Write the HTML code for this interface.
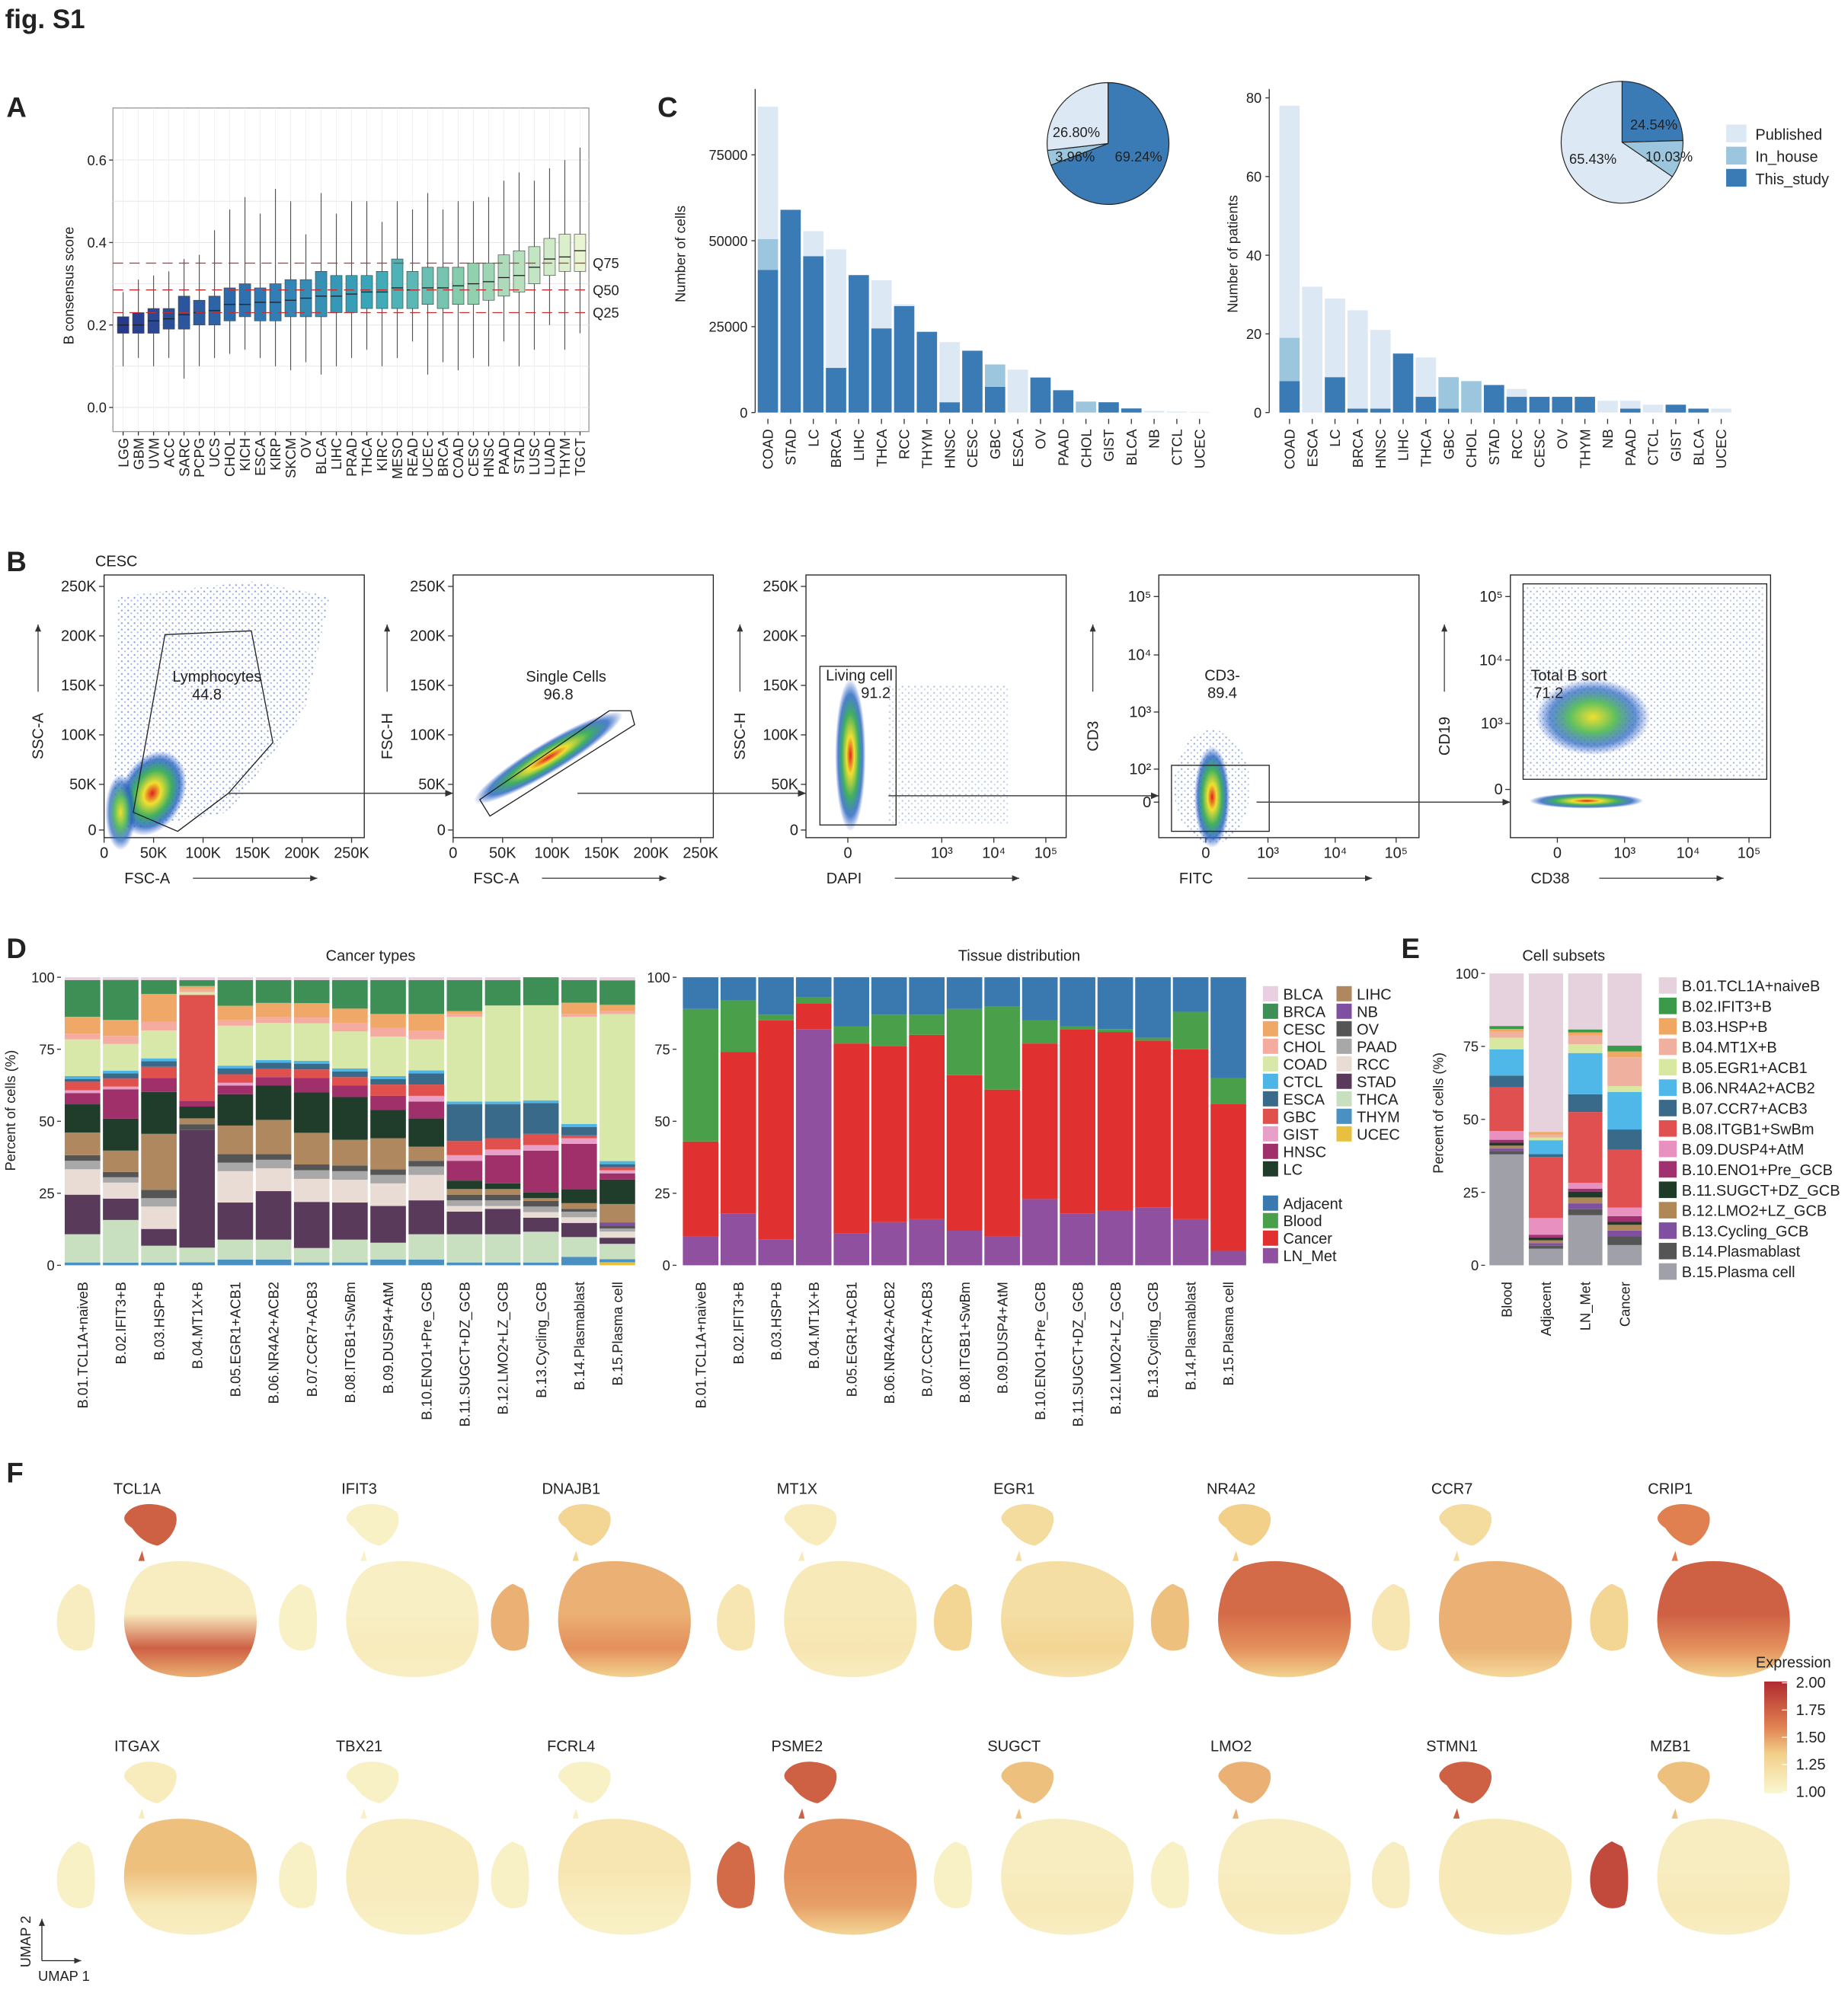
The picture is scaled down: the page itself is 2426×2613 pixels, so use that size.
<!DOCTYPE html>
<html><head><meta charset="utf-8"><style>
html,body{margin:0;padding:0;background:#fff}
svg{display:block;font-family:"Liberation Sans",Arial,sans-serif}
</style></head><body>
<svg id="fig" xmlns="http://www.w3.org/2000/svg" width="2426" height="2613" viewBox="0 0 1456 1568">
<defs>
<pattern id="dots" width="5" height="5" patternUnits="userSpaceOnUse"><circle cx="1" cy="1" r="0.7" fill="#2a50c0"/><circle cx="3.5" cy="3.2" r="0.6" fill="#3070d0"/></pattern>
<radialGradient id="dens" cx="50%" cy="50%" r="50%"><stop offset="0" stop-color="#e02020"/><stop offset="0.25" stop-color="#f0e030"/><stop offset="0.55" stop-color="#40b060"/><stop offset="0.8" stop-color="#2060c0" stop-opacity="0.8"/><stop offset="1" stop-color="#2050c0" stop-opacity="0"/></radialGradient>
<radialGradient id="dens2" cx="50%" cy="50%" r="50%"><stop offset="0" stop-color="#f0e030"/><stop offset="0.4" stop-color="#60c060"/><stop offset="0.75" stop-color="#2060c0" stop-opacity="0.7"/><stop offset="1" stop-color="#2050c0" stop-opacity="0"/></radialGradient>
<linearGradient id="cbar" x1="0" y1="1" x2="0" y2="0"><stop offset="0" stop-color="#faf6d0"/><stop offset="0.35" stop-color="#f2d08a"/><stop offset="0.6" stop-color="#e08050"/><stop offset="1" stop-color="#b02a30"/></linearGradient>
<marker id="arr" markerWidth="8" markerHeight="8" refX="7" refY="4" orient="auto"><path d="M0,1 L7,4 L0,7 Z" fill="#333"/></marker>
</defs>
</svg>
<script>
// ---------- DATA ----------
const catsA=["LGG","GBM","UVM","ACC","SARC","PCPG","UCS","CHOL","KICH","ESCA","KIRP","SKCM","OV","BLCA","LIHC","PRAD","THCA","KIRC","MESO","READ","UCEC","BRCA","COAD","CESC","HNSC","PAAD","STAD","LUSC","LUAD","THYM","TGCT"];
const medA=[.20,.20,.21,.215,.225,.23,.235,.25,.25,.255,.255,.26,.265,.27,.27,.275,.28,.28,.29,.285,.29,.29,.295,.30,.305,.315,.32,.34,.36,.365,.38];
const q1A=[.18,.18,.18,.19,.19,.20,.20,.21,.22,.21,.21,.22,.22,.22,.23,.23,.24,.24,.24,.24,.25,.24,.25,.25,.26,.27,.28,.30,.32,.33,.33];
const q3A=[.22,.23,.24,.24,.27,.26,.27,.29,.30,.29,.30,.31,.31,.33,.32,.32,.32,.33,.36,.33,.34,.34,.34,.35,.35,.37,.38,.39,.41,.42,.42];
const loA=[.10,.12,.10,.12,.07,.10,.12,.13,.14,.12,.10,.09,.11,.08,.10,.12,.14,.10,.12,.16,.08,.11,.09,.12,.10,.16,.10,.14,.20,.14,.18];
const hiA=[.28,.31,.32,.33,.36,.37,.43,.48,.51,.47,.53,.50,.42,.52,.47,.50,.50,.45,.50,.48,.52,.48,.50,.50,.51,.55,.57,.55,.58,.60,.63];
const refQ=[0.35,0.285,0.23]; const refQLabels=["Q75","Q50","Q25"];
const ticksA=[0.0,0.2,0.4,0.6];

const catsC1=["COAD","STAD","LC","BRCA","LIHC","THCA","RCC","THYM","HNSC","CESC","GBC","ESCA","OV","PAAD","CHOL","GIST","BLCA","NB","CTCL","UCEC"];
const thisC1=[41500,59000,45500,13000,40000,24500,31000,23500,3000,18000,7500,0,10200,6500,0,3000,1200,0,0,0];
const inhC1=[9000,0,0,0,0,0,0,0,0,0,6500,0,0,0,3200,0,0,0,0,0];
const pubC1=[38500,0,7300,34500,0,14000,500,0,17500,0,0,12500,0,0,0,0,0,500,300,200];
const ticksC1=[0,25000,50000,75000];
const pieC1=[69.24,3.96,26.80];

const catsC2=["COAD","ESCA","LC","BRCA","HNSC","LIHC","THCA","GBC","CHOL","STAD","RCC","CESC","OV","THYM","NB","PAAD","CTCL","GIST","BLCA","UCEC"];
const thisC2=[8,0,9,1,1,15,4,1,0,7,4,4,4,4,0,1,0,2,1,0];
const inhC2=[11,0,0,0,0,0,0,8,8,0,0,0,0,0,0,0,0,0,0,0];
const pubC2=[59,32,20,25,20,0,10,0,0,0,2,0,0,0,3,2,2,0,0,1];
const ticksC2=[0,20,40,60,80];
const pieC2=[24.54,10.03,65.43];
const sourceNames=["This_study","In_house","Published"];

const subsetsD=["B.01.TCL1A+naiveB","B.02.IFIT3+B","B.03.HSP+B","B.04.MT1X+B","B.05.EGR1+ACB1","B.06.NR4A2+ACB2","B.07.CCR7+ACB3","B.08.ITGB1+SwBm","B.09.DUSP4+AtM","B.10.ENO1+Pre_GCB","B.11.SUGCT+DZ_GCB","B.12.LMO2+LZ_GCB","B.13.Cycling_GCB","B.14.Plasmablast","B.15.Plasma cell"];
const cancers=["BLCA","BRCA","CESC","CHOL","COAD","CTCL","ESCA","GBC","GIST","HNSC","LC","LIHC","NB","OV","PAAD","RCC","STAD","THCA","THYM","UCEC"];
const cancerPct=[
[1,13,6,2,13,1,1,3,1,4,10,8,0,2,3,9,14,10,1,0],
[1,15,6,3,10,1,2,3,1,11,12,8,0,2,2,6,8,16,1,0],
[1,5,10,3,10,1,2,4,0,5,15,20,0,3,3,8,6,6,1,0],
[1,2,1,1,1,0,0,36,0,2,4,2,0,2,0,0,40,5,1,0],
[1,9,5,2,14,1,2,3,1,3,11,10,0,3,3,11,13,7,2,0],
[1,8,5,2,13,1,2,3,0,3,12,12,0,2,3,8,17,7,2,0],
[1,8,5,2,13,1,2,3,0,5,14,11,0,2,3,8,16,5,1,0],
[1,10,5,3,13,1,2,3,0,4,15,9,0,2,3,8,13,8,1,0],
[1,12,5,3,14,1,2,4,0,5,10,11,0,2,3,8,13,6,2,0],
[1,12,6,3,11,1,4,4,2,6,10,5,0,2,3,9,12,9,2,0],
[1,11,1,1,30,1,13,5,2,7,3,2,0,2,2,2,8,10,1,0],
[1,9,0,0,34,1,12,4,2,10,2,2,0,2,2,1,9,10,1,0],
[0,10,0,0,34,1,11,4,2,15,2,1,0,2,2,2,5,11,1,0],
[1,8,4,1,38,1,3,1,2,16,5,2,0,1,2,2,5,7,3,0],
[1,8,2,1,48,1,1,1,1,2,8,6,1,1,1,2,2,5,1,1]];
const tissues=["Adjacent","Blood","Cancer","LN_Met"];
const tissueLN=[10,18,9,82,11,15,16,12,10,23,18,19,20,16,5];
const tissueCancer=[33,56,76,9,66,61,64,54,51,54,64,62,58,59,51];
const tissueBlood=[46,18,2,2,6,11,7,23,29,8,1,1,1,13,9];
const tissueAdj=[11,8,13,7,17,13,13,11,10,15,17,18,21,12,35];
const ticksD=[0,25,50,75,100];

const groupsE=["Blood","Adjacent","LN_Met","Cancer"];
const subsetPct=[
[18,1,1,2,4,9,4,15,3,1,1,1,1,1,38],
[57,0,1,1,1,5,1,22,6,1,1,1,1,1,6],
[19,1,1,3,3,14,6,24,2,1,2,2,2,2,17],
[25,2,2,10,2,13,7,20,3,2,1,2,2,3,7]];

const genes1=["TCL1A","IFIT3","DNAJB1","MT1X","EGR1","NR4A2","CCR7","CRIP1"];
const genes2=["ITGAX","TBX21","FCRL4","PSME2","SUGCT","LMO2","STMN1","MZB1"];
const expTop=[.75,.05,.3,.1,.25,.35,.25,.6, .1,.05,.05,.75,.4,.45,.75,.4];
const expLeft=[.08,.05,.45,.15,.3,.4,.15,.3, .05,.05,.05,.7,.05,.05,.08,.85];
const expUp=[.08,.06,.45,.12,.22,.7,.45,.75, .4,.1,.15,.55,.08,.08,.12,.08];
const expLow=[.75,.1,.55,.15,.3,.55,.45,.55, .12,.08,.08,.5,.12,.12,.12,.12];
const cbarTicks=["2.00","1.75","1.50","1.25","1.00"];

// ---------- HELPERS ----------
const NS="http://www.w3.org/2000/svg";
const S=document.getElementById('fig');
function mk(tag,attrs,parent,name,inter){
  const el=document.createElementNS(NS,tag);
  for(const k in attrs) el.setAttribute(k,attrs[k]);
  
  
  (parent||S).appendChild(el);return el;
}
function grp(name,parent){return mk('g',{},parent||S,name,false);}
function tx(p,x,y,s,size,name,o){
  o=o||{};
  const a={x:x,y:y,'font-size':size,fill:o.fill||'#222','text-anchor':o.anchor||'start'};
  if(o.rot!==undefined) a.transform=`rotate(${o.rot} ${x} ${y})`;
  if(o.weight) a['font-weight']=o.weight;
  const t=mk('text',a,p,name,false);t.textContent=s;return t;
}
function ln(p,x1,y1,x2,y2,name,o){o=o||{};
  const a={x1,y1,x2,y2,stroke:o.stroke||'#333','stroke-width':o.w||0.8};
  if(o.dash)a['stroke-dasharray']=o.dash; if(o.marker)a['marker-end']=o.marker;
  return mk('line',a,p,name,false);}
function hex(c){return [parseInt(c.slice(1,3),16),parseInt(c.slice(3,5),16),parseInt(c.slice(5,7),16)];}
function lerpC(stops,t){t=Math.max(0,Math.min(1,t));
  for(let i=1;i<stops.length;i++){if(t<=stops[i][0]){const [t0,c0]=stops[i-1],[t1,c1]=stops[i];const f=(t-t0)/(t1-t0||1);
    const a=hex(c0),b=hex(c1);return `rgb(${a.map((v,j)=>Math.round(v+(b[j]-v)*f)).join(',')})`;}}
  return stops[stops.length-1][1];}
const boxStops=[[0,'#283a8c'],[0.3,'#2f78b4'],[0.55,'#3aa8b8'],[0.75,'#8ccfae'],[1,'#e8f4d2']];
const expStops=[[0,'#faf6d0'],[0.35,'#f2d08a'],[0.6,'#e08050'],[1,'#b02a30']];

tx(S,4,22,"fig. S1",21,'figure-title',{weight:'bold'});

// ---------- PANEL A ----------
(function(){
const g=grp('panel-a');
tx(g,5,92,"A",22,'panel-label-a',{weight:'bold'});
const X0=89,X1=464,Y0=85,Y1=340;
const y=v=>321-v*325;
const x=i=>97+i*12;
mk('rect',{x:X0,y:Y0,width:X1-X0,height:Y1-Y0,fill:'#fff',stroke:'#999','stroke-width':0.8},g,'plot-area-a',false);
for(let v=0;v<=0.65;v+=0.1) ln(g,X0,y(v),X1,y(v),'gridline-a',{stroke:'#e6e6e6',w:0.6});
catsA.forEach((c,i)=>ln(g,x(i),Y0,x(i),Y1,'gridline-x-a',{stroke:'#efefef',w:0.5}));
ticksA.forEach(v=>{ln(g,X0-3,y(v),X0,y(v),'y-tick-a');tx(g,X0-5,y(v)+4,v.toFixed(1),11,'y-tick-label-a',{anchor:'end'});});
tx(g,58,225,"B consensus score",11,'y-axis-title-a',{rot:-90,anchor:'middle'});
catsA.forEach((c,i)=>{
  const col=lerpC(boxStops,i/(catsA.length-1));
  const b=grp('box-'+c.toLowerCase(),g);
  ln(b,x(i),y(hiA[i]),x(i),y(loA[i]),'whisker',{stroke:'#555',w:0.7});
  mk('rect',{x:x(i)-4.5,y:y(q3A[i]),width:9,height:y(q1A[i])-y(q3A[i]),fill:col,stroke:'#444','stroke-width':0.4},b,'box',false);
  ln(b,x(i)-4.5,y(medA[i]),x(i)+4.5,y(medA[i]),'median',{stroke:'#222',w:0.8});
  ln(g,x(i),Y1,x(i),Y1+3,'x-tick-a');
  tx(g,x(i)+4,Y1+5,c,11,'x-tick-label-a',{rot:-90,anchor:'end'});
});
refQ.forEach((v,k)=>{ln(g,X0,y(v),X1,y(v),'ref-line-'+refQLabels[k].toLowerCase(),{stroke:'#c03030',w:0.8,dash:'8,5'});
  tx(g,X1+3,y(v)+4,refQLabels[k],11,'ref-label-'+refQLabels[k].toLowerCase());});
})();

// ---------- PANEL C ----------
const srcCol=['#3a7ab5','#9cc6dd','#dce9f5'];
function barPanel(name,cats,series,ticks,yfn,x0,axisX,fmt,ylab,ylabX){
  const g=grp(name);
  ln(g,axisX,70,axisX,325,'y-axis-line');
  ticks.forEach(v=>{ln(g,axisX-3,yfn(v),axisX,yfn(v),'y-tick');tx(g,axisX-6,yfn(v)+4,fmt(v),11,'y-tick-label',{anchor:'end'});});
  tx(g,ylabX,200,ylab,11,'y-axis-title',{rot:-90,anchor:'middle'});
  cats.forEach((c,i)=>{
    const cx=x0+i*17.9;let acc=0;
    const b=grp('bar-'+c.toLowerCase(),g);
    series.forEach((s,k)=>{const v=s[i];if(v>0){
      mk('rect',{x:cx-8,y:yfn(acc+v),width:16,height:yfn(acc)-yfn(acc+v),fill:srcCol[k]},b,'bar-'+sourceNames[k].toLowerCase(),false);}acc+=v;});
    ln(g,cx,330,cx,334,'x-tick');
    tx(g,cx+4,338,c,11,'x-tick-label',{rot:-90,anchor:'end'});
  });
  return g;
}
function pie(g,cx,cy,r,vals,labels){
  let a=0;const tot=vals.reduce((s,v)=>s+v,0);
  vals.forEach((v,k)=>{const a0=a,a1=a+v/tot*2*Math.PI;a=a1;
    const p=(t)=>[cx+r*Math.sin(t),cy-r*Math.cos(t)];
    const [x0,y0]=p(a0),[x1,y1]=p(a1);
    mk('path',{d:`M${cx},${cy} L${x0},${y0} A${r},${r} 0 ${a1-a0>Math.PI?1:0} 1 ${x1},${y1} Z`,fill:srcCol[k],stroke:'#222','stroke-width':0.7},g,'pie-slice-'+sourceNames[k].toLowerCase(),false);
  });
  labels.forEach(l=>tx(g,l[0],l[1],l[2],11,'pie-label',{anchor:'middle'}));
}
(function(){
const y1=v=>325-v/25000*67.7;
const g1=barPanel('panel-c-cells',catsC1,[thisC1,inhC1,pubC1],ticksC1,y1,605,595,v=>String(v),"Number of cells",540);
tx(g1,518,92,"C",22,'panel-label-c',{weight:'bold'});
pie(g1,873,113,48,pieC1,[[848,108,pieC1[2].toFixed(2)+'%'],[847,127,pieC1[1].toFixed(2)+'%'],[897,127,pieC1[0].toFixed(2)+'%']]);
const y2=v=>325-v*3.1;
const g2=barPanel('panel-c-patients',catsC2,[thisC2,inhC2,pubC2],ticksC2,y2,1016,1000,v=>String(v),"Number of patients",975);
pie(g2,1278,112,48,pieC2,[[1303,102,pieC2[0].toFixed(2)+'%'],[1315,127,pieC2[1].toFixed(2)+'%'],[1255,129,pieC2[2].toFixed(2)+'%']]);
const lg=grp('legend-source');
['Published','In_house','This_study'].forEach((n,i)=>{const k=2-i;
  mk('rect',{x:1360,y:98+i*17.5,width:16,height:14,fill:srcCol[k]},lg,'legend-swatch-'+n.toLowerCase(),false);
  tx(lg,1383,110+i*17.5,n,12,'legend-label-'+n.toLowerCase());});
})();

// ---------- PANEL B ----------
(function(){
const g=grp('panel-b');
tx(g,5,450,"B",22,'panel-label-b',{weight:'bold'});
tx(g,75,446,"CESC",12,'sample-label');
const boxes=[[82,'SSC-A','FSC-A'],[357,'FSC-H','FSC-A'],[635,'SSC-H','DAPI'],[913,'CD3','FITC'],[1190,'CD19','CD38']];
const linY=[[462,'250K'],[501,'200K'],[540,'150K'],[579,'100K'],[618,'50K'],[654,'0']];
boxes.forEach((b,i)=>{
  const x0=b[0];const p=grp('flow-plot-'+(i+1),g);
  mk('rect',{x:x0,y:453,width:205,height:207,fill:'#fff',stroke:'#222','stroke-width':0.8},p,'flow-frame',false);
  let yt=linY;
  if(i==3) yt=[[470,'10⁵'],[516,'10⁴'],[561,'10³'],[606,'10²'],[632,'0']];
  if(i==4) yt=[[470,'10⁵'],[520,'10⁴'],[570,'10³'],[622,'0']];
  yt.forEach(t=>{ln(p,x0-4,t[0],x0,t[0],'y-tick');tx(p,x0-6,t[0]+4,t[1],12,'y-tick-label',{anchor:'end'});});
  let xt=[[0,'0'],[39,'50K'],[78,'100K'],[117,'150K'],[156,'200K'],[195,'250K']];
  if(i==2) xt=[[33,'0'],[107,'10³'],[148,'10⁴'],[189,'10⁵']];
  if(i==3) xt=[[37,'0'],[86,'10³'],[139,'10⁴'],[187,'10⁵']];
  if(i==4) xt=[[37,'0'],[90,'10³'],[140,'10⁴'],[188,'10⁵']];
  xt.forEach(t=>{ln(p,x0+t[0],660,x0+t[0],664,'x-tick');tx(p,x0+t[0],676,t[1],12,'x-tick-label',{anchor:'middle'});});
  tx(p,x0-48,580,b[1],12,'y-axis-title',{rot:-90,anchor:'middle'});
  ln(p,x0-52,545,x0-52,492,'y-axis-arrow',{marker:'url(#arr)',stroke:'#444'});
  tx(p,x0+16,696,b[2],12,'x-axis-title');
  ln(p,x0+70,692,x0+168,692,'x-axis-arrow',{marker:'url(#arr)',stroke:'#444'});
});
const c1=grp('flow-cloud-1',g);
mk('path',{d:'M90,655 L92,470 L200,458 L260,470 L240,560 L180,640 Z',fill:'url(#dots)',opacity:0.55},c1,'scatter-spread',false);
mk('ellipse',{cx:120,cy:625,rx:25,ry:35,fill:'url(#dens)',transform:'rotate(25 120 625)'},c1,'density-core',false);
mk('ellipse',{cx:95,cy:640,rx:12,ry:30,fill:'url(#dens2)'},c1,'density-core-2',false);
mk('polygon',{points:'105,640 130,500 198,497 215,585 180,625 140,655',fill:'none',stroke:'#222','stroke-width':0.8},c1,'gate-lymphocytes',true);
tx(c1,171,537,"Lymphocytes",12,'gate-label',{anchor:'middle'});tx(c1,163,551,"44.8",12,'gate-value',{anchor:'middle'});
const c2=grp('flow-cloud-2',g);
mk('ellipse',{cx:432,cy:597,rx:68,ry:12,fill:'url(#dens)',transform:'rotate(-31 432 597)'},c2,'density-core',false);
mk('polygon',{points:'378,630 386,643 500,571 497,560 480,560',fill:'none',stroke:'#222','stroke-width':0.8},c2,'gate-single-cells',true);
tx(c2,446,537,"Single Cells",12,'gate-label',{anchor:'middle'});tx(c2,440,551,"96.8",12,'gate-value',{anchor:'middle'});
const c3=grp('flow-cloud-3',g);
mk('rect',{x:700,y:540,width:95,height:110,fill:'url(#dots)',opacity:0.35},c3,'scatter-spread',false);
mk('ellipse',{cx:670,cy:595,rx:12,ry:60,fill:'url(#dens)'},c3,'density-core',false);
mk('rect',{x:646,y:525,width:60,height:125,fill:'none',stroke:'#222','stroke-width':0.8},c3,'gate-living-cell',true);
tx(c3,677,536,"Living cell",12,'gate-label',{anchor:'middle'});tx(c3,690,550,"91.2",12,'gate-value',{anchor:'middle'});
const c4=grp('flow-cloud-4',g);
mk('ellipse',{cx:955,cy:620,rx:30,ry:45,fill:'url(#dots)',opacity:0.5},c4,'scatter-spread',false);
mk('ellipse',{cx:955,cy:628,rx:14,ry:40,fill:'url(#dens)'},c4,'density-core',false);
mk('rect',{x:923,y:603,width:77,height:52,fill:'none',stroke:'#222','stroke-width':0.8},c4,'gate-cd3-neg',true);
tx(c4,963,536,"CD3-",12,'gate-label',{anchor:'middle'});tx(c4,963,550,"89.4",12,'gate-value',{anchor:'middle'});
const c5=grp('flow-cloud-5',g);
mk('rect',{x:1200,y:462,width:190,height:150,fill:'url(#dots)',opacity:0.45},c5,'scatter-spread',false);
mk('ellipse',{cx:1255,cy:565,rx:45,ry:30,fill:'url(#dens2)'},c5,'density-core',false);
mk('ellipse',{cx:1250,cy:631,rx:45,ry:6,fill:'url(#dens)'},c5,'density-band',false);
mk('rect',{x:1200,y:460,width:192,height:154,fill:'none',stroke:'#222','stroke-width':0.8},c5,'gate-total-b',true);
tx(c5,1236,536,"Total B sort",12,'gate-label',{anchor:'middle'});tx(c5,1220,550,"71.2",12,'gate-value',{anchor:'middle'});
[[180,625,357,625],[455,625,635,625],[700,627,913,627],[990,632,1190,632]].forEach(a=>ln(g,a[0],a[1],a[2],a[3],'gate-arrow',{marker:'url(#arr)',stroke:'#444',w:0.9}));
})();

// ---------- PANEL D ----------
const cancerCol=['#e8d0e0','#3d8f56','#f0a868','#f4aca0','#d8e8a8','#4db6e6','#3a6a8a','#e0504c','#e8a0c8','#a0306a','#1f3d2a','#b08860','#8050a0','#555555','#a8a8a8','#e8dcd4','#5a3a5a','#c8e0c0','#4a90c0','#e8c040'];
const tissueCol={Adjacent:'#3a78b0',Blood:'#4aa04a',Cancer:'#e03030',LN_Met:'#9050a0'};
function stackAxis(g,ax,yfn){
  ticksD.forEach(v=>{ln(g,ax-3,yfn(v),ax,yfn(v),'y-tick');tx(g,ax-5,yfn(v)+4,String(v),11,'y-tick-label',{anchor:'end'});});
}
(function(){
const g=grp('panel-d');
tx(g,5,755,"D",22,'panel-label-d',{weight:'bold'});
const yfn=p=>997-p*2.27;
tx(g,292,757,"Cancer types",12,'chart-title-cancer',{anchor:'middle'});
tx(g,803,757,"Tissue distribution",12,'chart-title-tissue',{anchor:'middle'});
tx(g,12,875,"Percent of cells (%)",11,'y-axis-title-d',{rot:-90,anchor:'middle'});
stackAxis(g,48,yfn);stackAxis(g,533,yfn);
subsetsD.forEach((s,i)=>{
  const cx=65+i*30.1;const b=grp('bar-cancer-'+(i+1),g);
  const row=cancerPct[i];const tot=row.reduce((a,v)=>a+v,0);
  let acc=0;
  for(let k=cancers.length-1;k>=0;k--){const v=row[k]/tot*100;if(v<=0)continue;
    mk('rect',{x:cx-14,y:yfn(acc+v),width:28,height:yfn(acc)-yfn(acc+v),fill:cancerCol[k]},b,'segment-'+cancers[k].toLowerCase(),false);acc+=v;}
  tx(g,cx+4,1010,s,11,'x-tick-label-cancer',{rot:-90,anchor:'end'});
  const cx2=552+i*29.7;const b2=grp('bar-tissue-'+(i+1),g);
  const vals=[tissueLN[i],tissueCancer[i],tissueBlood[i],tissueAdj[i]],names=['LN_Met','Cancer','Blood','Adjacent'];
  const t2=vals.reduce((a,v)=>a+v,0);let a2=0;
  vals.forEach((v0,k)=>{const v=v0/t2*100;
    mk('rect',{x:cx2-14,y:yfn(a2+v),width:28,height:yfn(a2)-yfn(a2+v),fill:tissueCol[names[k]]},b2,'segment-'+names[k].toLowerCase(),false);a2+=v;});
  tx(g,cx2+4,1010,s,11,'x-tick-label-tissue',{rot:-90,anchor:'end'});
});
const lg=grp('legend-cancer',g);
cancers.forEach((c,k)=>{const col=k<11?0:1,row=k<11?k:k-11;const lx=995+col*58,ly=777+row*13.8;
  mk('rect',{x:lx,y:ly,width:12,height:12,fill:cancerCol[k]},lg,'legend-swatch-'+c.toLowerCase(),false);
  tx(lg,lx+16,ly+10.5,c,12,'legend-label-'+c.toLowerCase());});
const lt=grp('legend-tissue',g);
tissues.forEach((t,k)=>{const ly=942+k*13.8;
  mk('rect',{x:995,y:ly,width:12,height:12,fill:tissueCol[t]},lt,'legend-swatch-'+t.toLowerCase(),false);
  tx(lt,1011,ly+10.5,t,12,'legend-label-'+t.toLowerCase());});
})();

// ---------- PANEL E ----------
const subsetCol=['#e6d2dc','#3a9a4a','#f0a860','#f0b0a0','#d8e8a0','#50b8e8','#3a6a8a','#e05050','#e890c0','#a03070','#1e3a28','#b08858','#8050a0','#555555','#a0a0a8'];
(function(){
const g=grp('panel-e');
tx(g,1104,755,"E",22,'panel-label-e',{weight:'bold'});
tx(g,1232,757,"Cell subsets",12,'chart-title-subsets',{anchor:'middle'});
const yfn=p=>997-p*2.3;
stackAxis(g,1170,yfn);
tx(g,1137,877,"Percent of cells (%)",11,'y-axis-title-e',{rot:-90,anchor:'middle'});
groupsE.forEach((gn,i)=>{
  const cx=1187+i*31;const b=grp('bar-subset-'+gn.toLowerCase(),g);
  const row=subsetPct[i];const tot=row.reduce((a,v)=>a+v,0);let acc=0;
  for(let k=row.length-1;k>=0;k--){const v=row[k]/tot*100;if(v<=0)continue;
    mk('rect',{x:cx-13.5,y:yfn(acc+v),width:27,height:yfn(acc)-yfn(acc+v),fill:subsetCol[k]},b,'segment-b'+(k+1),false);acc+=v;}
  tx(g,cx+4,1010,gn,11,'x-tick-label-e',{rot:-90,anchor:'end'});
});
const lg=grp('legend-subsets',g);
subsetsD.forEach((s,k)=>{const ly=770+k*16.1;
  mk('rect',{x:1307,y:ly,width:14,height:13,fill:subsetCol[k]},lg,'legend-swatch-b'+(k+1),false);
  tx(lg,1325,ly+11,s,12,'legend-label-b'+(k+1));});
})();

// ---------- PANEL F ----------
(function(){
const g=grp('panel-f');
tx(g,5,1168,"F",22,'panel-label-f',{weight:'bold'});
const genes=genes1.concat(genes2);
const xs=[108,283,450,628,799,970,1144,1316];
genes.forEach((gn,i)=>{
  const row=i<8?0:1,cx=xs[i%8],ly=row?1380:1177,oy=row?203:0;
  const p=grp('umap-'+gn.toLowerCase(),g);
  tx(p,cx,ly,gn,12,'umap-title',{anchor:'middle'});
  const ox=cx-108;
  const cTop=lerpC(expStops,expTop[i]),cLeft=lerpC(expStops,expLeft[i]),cUp=lerpC(expStops,expUp[i]),cLow=lerpC(expStops,expLow[i]);
  const gid='ug'+i;
  const lg=mk('linearGradient',{id:gid,x1:0,y1:0,x2:0,y2:1},p,'umap-gradient',false);
  mk('stop',{offset:0,'stop-color':cUp},lg,'stop',false);
  mk('stop',{offset:0.45,'stop-color':cUp},lg,'stop',false);
  mk('stop',{offset:0.75,'stop-color':cLow},lg,'stop',false);
  mk('stop',{offset:1,'stop-color':lerpC(expStops,expLow[i]*0.6)},lg,'stop',false);
  const T=`translate(${ox},${oy})`;
  mk('path',{d:'M100,1192 C108,1182 130,1184 138,1192 C142,1200 135,1214 124,1218 C114,1216 108,1210 104,1204 C98,1200 96,1196 100,1192 Z',fill:cTop,transform:T},p,'cluster-top',false);
  mk('path',{d:'M112,1222 L114,1230 L109,1230 Z',fill:cTop,transform:T},p,'cluster-small',false);
  mk('path',{d:'M62,1248 C48,1254 42,1272 46,1288 C50,1300 62,1304 72,1298 C76,1290 76,1262 70,1252 Z',fill:cLeft,transform:T},p,'cluster-left',false);
  mk('path',{d:'M118,1234 C140,1226 176,1230 196,1250 C206,1270 204,1298 190,1312 C170,1324 140,1324 120,1316 C104,1308 96,1290 98,1270 C100,1252 106,1240 118,1234 Z',fill:`url(#${gid})`,transform:T},p,'cluster-main',false);
});
const cb=grp('expression-legend',g);
tx(cb,1413,1314,"Expression",12,'legend-title-expression',{anchor:'middle'});
mk('rect',{x:1390,y:1325,width:18,height:88,fill:'url(#cbar)'},cb,'colorbar',false);
cbarTicks.forEach((t,k)=>{const yy=1326+k*21.5;ln(cb,1404,yy,1408,yy,'colorbar-tick',{stroke:'#fff'});tx(cb,1415,yy+4,t,12,'colorbar-label');});
const ax=grp('umap-axes',g);
ln(ax,33,1545,33,1512,'umap-axis-2',{marker:'url(#arr)',stroke:'#222'});
ln(ax,33,1545,64,1545,'umap-axis-1',{marker:'url(#arr)',stroke:'#222'});
tx(ax,24,1530,"UMAP 2",11,'umap-2-label',{rot:-90,anchor:'middle'});
tx(ax,30,1561,"UMAP 1",11,'umap-1-label');
})();
</script>
</body></html>
